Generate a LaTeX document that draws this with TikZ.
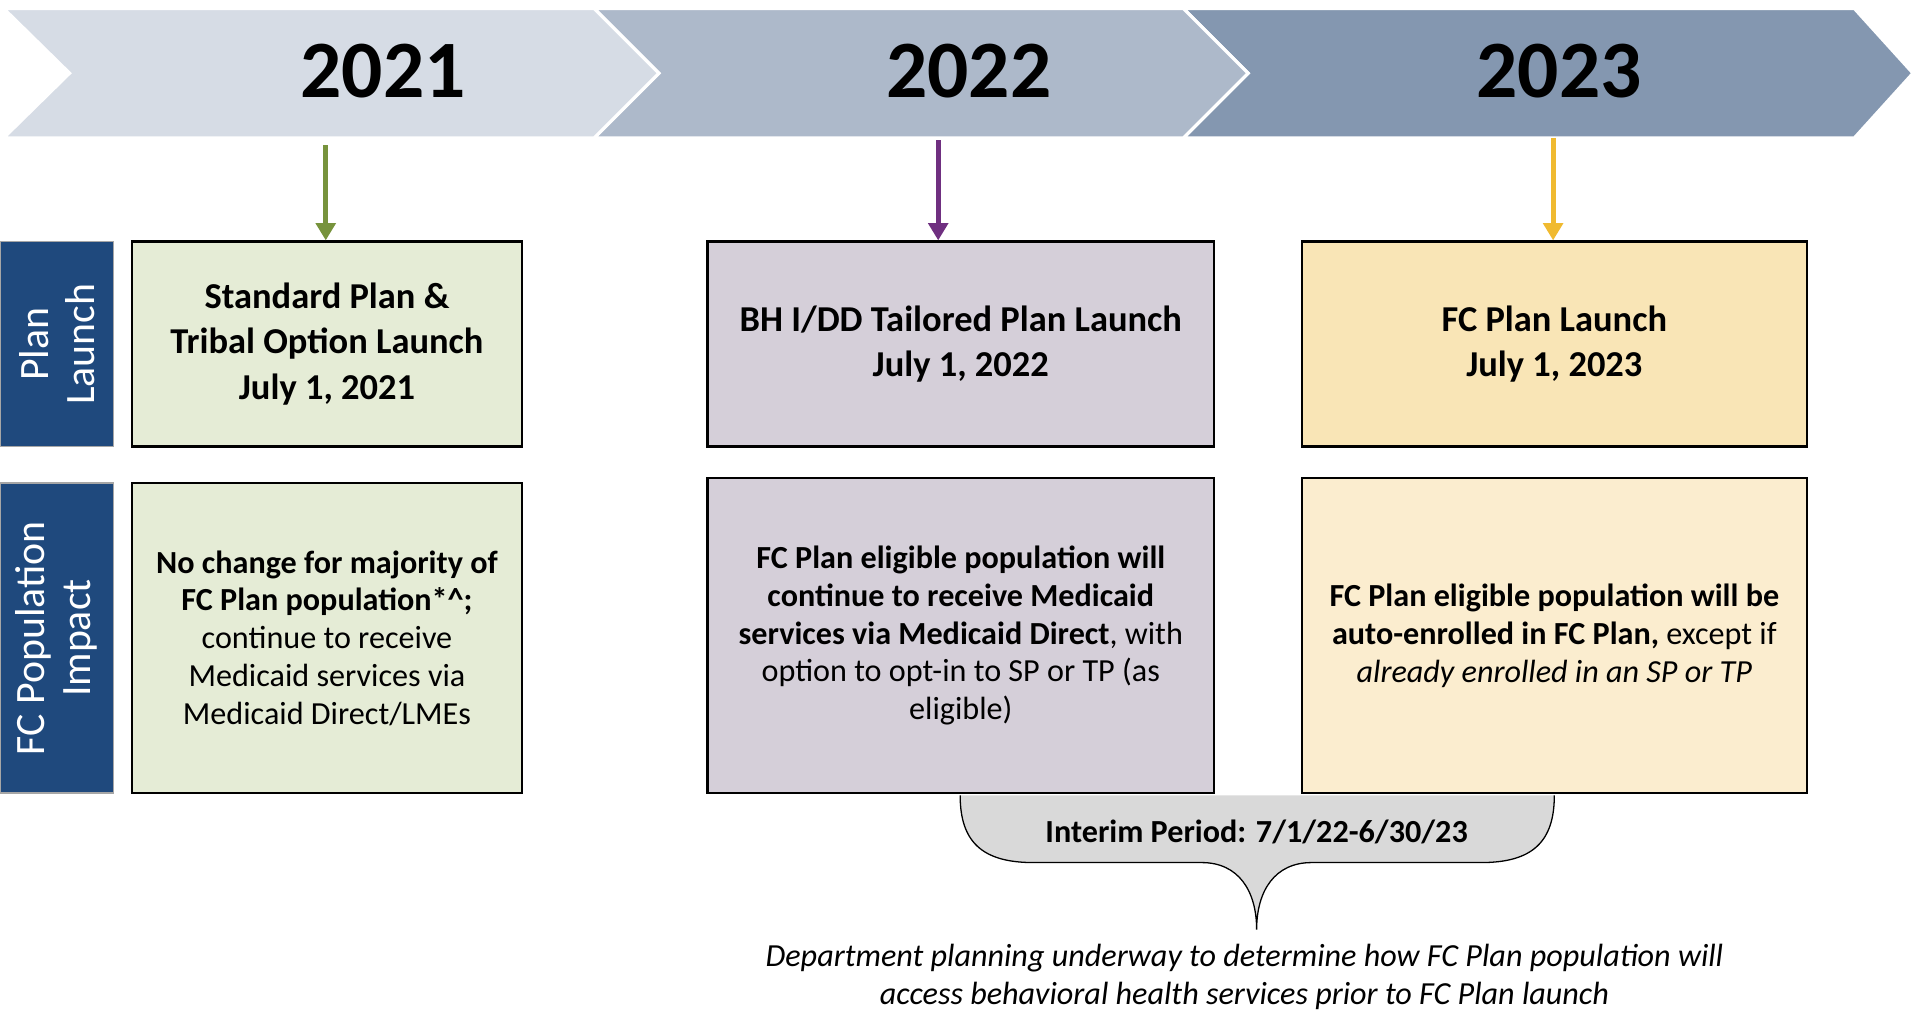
\documentclass[tikz,border=0pt]{standalone}
\usepackage{fontspec}
\setmainfont{Carlito}
\usepackage{xcolor}
\usetikzlibrary{arrows.meta,positioning}

\definecolor{chevA}{HTML}{D6DCE5}
\definecolor{chevB}{HTML}{ADB9CA}
\definecolor{chevC}{HTML}{8497B0}
\definecolor{sideblue}{HTML}{1F497D}
\definecolor{greenbox}{HTML}{E5ECD6}
\definecolor{lilacbox}{HTML}{D5CFD9}
\definecolor{goldbox}{HTML}{F9E5B6}
\definecolor{paleboxgold}{HTML}{FBEDCF}
\definecolor{arrgreen}{HTML}{77933C}
\definecolor{arrpurple}{HTML}{6F2F80}
\definecolor{arrgold}{HTML}{F0BA30}
\definecolor{interimgray}{HTML}{D9D9D9}

\begin{document}
\begin{tikzpicture}[x=0.2mm, y=-0.2mm,
    yearlbl/.style={font=\fontsize{38}{44}\selectfont\bfseries},
    sidebox/.style={rectangle, draw=gray!70, line width=0.8pt, fill=sideblue, text=white, rotate=90,
        minimum height=1.86cm, align=center, font=\fontsize{19.5}{21.5}\selectfont},
    planbox/.style={rectangle, draw, line width=1.1pt, minimum height=3.36cm, align=center,
        font=\fontsize{17}{21}\selectfont\bfseries},
    impactbox/.style={rectangle, draw, line width=1.1pt, align=center,
        font=\fontsize{15}{17.6}\selectfont},
    drop/.style={line width=2.3pt, -{Triangle[width=9pt,length=8pt]}}]
				\useasboundingbox (0,0) rectangle (1568,829);

				\path[fill=chevC, draw=white, line width=1.5pt] (970,7) -- (1520,7) -- (1568,60) -- (1520,113) -- (970,113) -- (1023,60) -- cycle;
				\path[fill=chevB, draw=white, line width=1.5pt] (487,7) -- (970,7) -- (1023,60) -- (970,113) -- (487,113) -- (540,60) -- cycle;
				\path[fill=chevA, draw=white, line width=1.5pt] (3,7) -- (487,7) -- (540,60) -- (487,113) -- (3,113) -- (57,60) -- cycle;

				\node[yearlbl] (y2021) at (314,58) {2021};
				\node[yearlbl] (y2022) at (794,58) {2022};
				\node[yearlbl] (y2023) at (1278,58) {2023};

				\node[sidebox, minimum width=3.36cm] (launch) at (46.5,282) {Plan\\Launch};
				\node[sidebox, minimum width=5.08cm] (impact) at (46.5,523) {FC Population\\Impact};

				\node[planbox, fill=greenbox, minimum width=6.4cm] (sp) at (268,282) {Standard Plan \&\\Tribal Option Launch\\July 1, 2021};
				\node[planbox, fill=lilacbox, minimum width=8.3cm] (tp) at (787.5,282) {BH I/DD Tailored Plan Launch\\July 1, 2022};
				\node[planbox, fill=goldbox, minimum width=8.28cm] (fc) at (1274,282) {FC Plan Launch\\July 1, 2023};

				\node[impactbox, fill=greenbox, minimum width=6.4cm, minimum height=5.08cm] (spimp) at (268,523)
					{\textbf{No change for majority of}\\\textbf{FC Plan population*\textasciicircum;}\\continue to receive\\Medicaid services via\\Medicaid Direct/LMEs};
				\node[impactbox, fill=lilacbox, minimum width=8.3cm, minimum height=5.16cm] (tpimp) at (787.5,521)
					{\textbf{FC Plan eligible population will}\\\textbf{continue to receive Medicaid}\\\textbf{services via Medicaid Direct}, with\\option to opt-in to SP or TP (as\\eligible)};
				\node[impactbox, fill=paleboxgold, minimum width=8.28cm, minimum height=5.16cm] (fcimp) at (1274,521)
					{\textbf{FC Plan eligible population will be}\\\textbf{auto-enrolled in FC Plan,} except if\\\textit{already enrolled in an SP or TP}};

				\coordinate (s1) at (267,119);
				\coordinate (s2) at (769,115);
				\coordinate (s3) at (1273,113);
				\draw[drop, arrgreen] (s1) -- (s1 |- sp.north);
				\draw[drop, arrpurple] (s2) -- (s2 |- tp.north);
				\draw[drop, arrgold] (s3) -- (s3 |- fc.north);

				\path[fill=interimgray, draw=black, line width=0.6pt] (787,652) .. controls (787,690) and (805,707) .. (847,707) -- (985,707)
					.. controls (1015,707) and (1030,730) .. (1030,762) .. controls (1030,730) and (1045,707) .. (1075,707) -- (1214,707)
					.. controls (1256,707) and (1274,690) .. (1274,652);
				\node[font=\fontsize{15}{17.6}\selectfont\bfseries] (interim) at (1030,682) {Interim Period: 7/1/22-6/30/23};

				\node[align=center, font=\fontsize{15}{17.6}\selectfont\itshape] (note) at (1020,801)
					{Department planning underway to determine how FC Plan population will\\access behavioral health services prior to FC Plan launch};
			\end{tikzpicture}
\end{document}
